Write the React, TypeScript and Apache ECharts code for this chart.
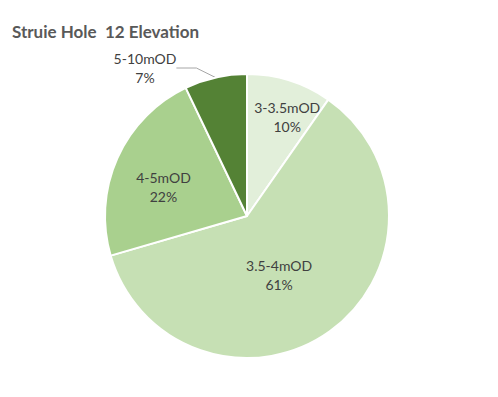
import React, { useEffect, useRef } from "react";
import * as echarts from "echarts";

const categories = ["3-3.5mOD", "3.5-4mOD", "4-5mOD", "5-10mOD"];
const values = [9.7, 60.8, 22.4, 7.1];
const colors = ["#e2efda", "#c6e0b4", "#a9d08e", "#548235"];
const labelOffsets: number[][] = [[18, -28], [-11, -1], [-16, 1], [0, 0]];

export default function App() {
  const ref = useRef<HTMLDivElement>(null);
  useEffect(() => {
    document.body.style.margin = "0";
    const chart = echarts.init(ref.current!, undefined, { renderer: "svg" });
    const font = "Lato, sans-serif";
    chart.setOption({
      animation: false,
      backgroundColor: "#ffffff",
      title: {
        text: "Struie Hole  12 Elevation",
        left: 7,
        top: 18,
        textStyle: { fontFamily: font, fontSize: 17, fontWeight: "bold", color: "#595959" },
      },
      series: [
        {
          type: "pie",
          center: [247, 216],
          radius: 142,
          startAngle: 90,
          clockwise: true,
          itemStyle: { borderColor: "#ffffff", borderWidth: 2 },
          labelLine: { lineStyle: { color: "#a6a6a6", width: 1 }, length: 10, length2: 20 },
          labelLayout: (params: any) => {
            if (params.dataIndex === 3) {
              return { x: 145, y: 68, align: "center", verticalAlign: "middle" };
            }
            return {};
          },
          data: categories.map((c, i) => ({
            name: c,
            value: values[i],
            itemStyle: { color: colors[i] },
            label: {
              show: true,
              position: i === 3 ? "outside" : "inside",
              offset: labelOffsets[i],
              formatter: (p: any) => `${p.name}\n${Math.round(p.percent)}%`,
              fontFamily: font,
              fontSize: 14,
              lineHeight: 19,
              color: "#404040",
              align: "center",
            },
            labelLine: { show: i === 3 },
          })),
        },
      ],
    });
    return () => chart.dispose();
  }, []);
  return <div ref={ref} style={{ width: 498, height: 397 }} />;
}
